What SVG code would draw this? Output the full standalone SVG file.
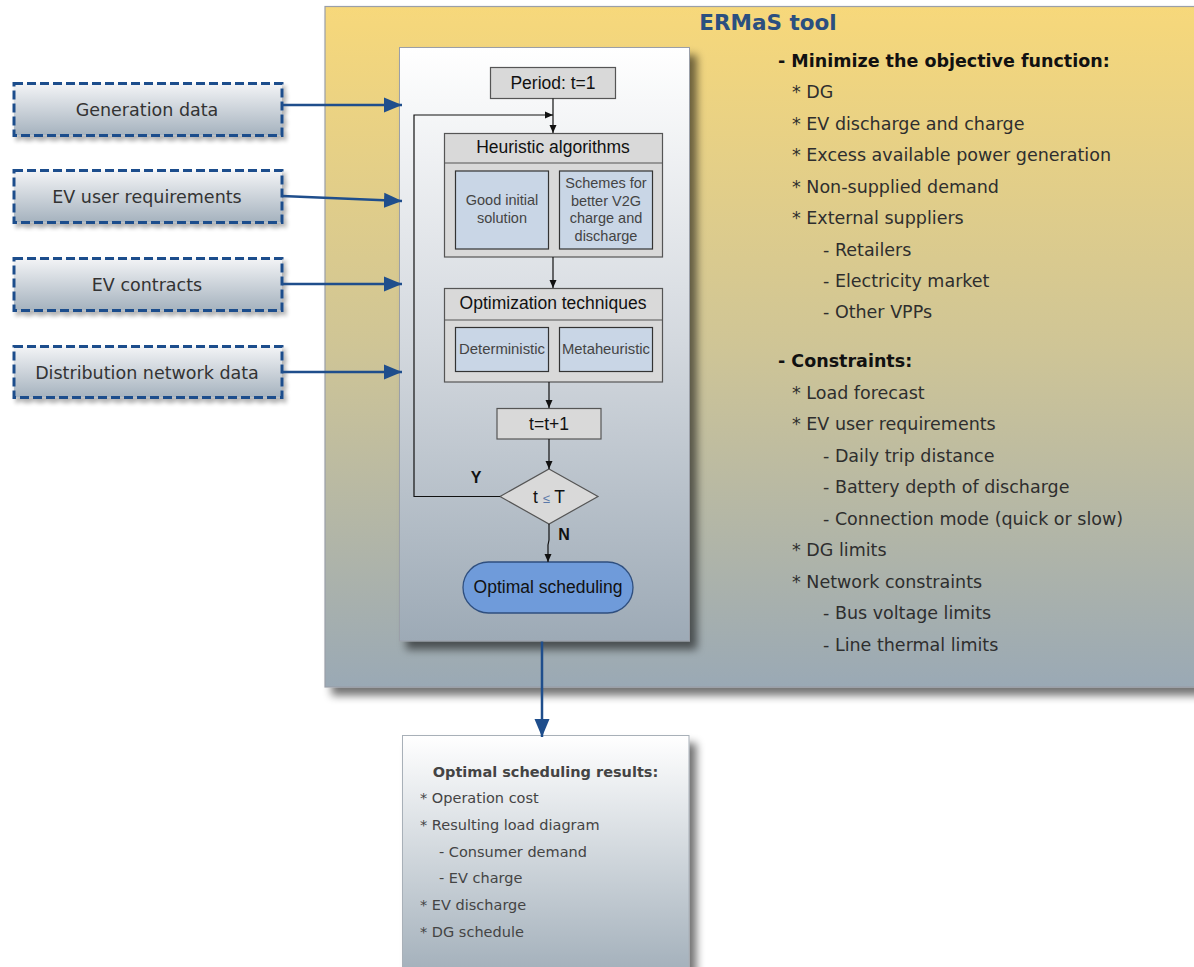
<svg xmlns="http://www.w3.org/2000/svg" width="1194" height="967" viewBox="0 0 1194 967">
  <defs>
    <linearGradient id="gTool" x1="0" y1="0" x2="0" y2="1">
      <stop offset="0" stop-color="#F7D87A"/>
      <stop offset="0.5" stop-color="#CFC596"/>
      <stop offset="1" stop-color="#9AA9B5"/>
    </linearGradient>
    <linearGradient id="gPanel" x1="0" y1="0" x2="0" y2="1">
      <stop offset="0" stop-color="#FFFFFF"/>
      <stop offset="0.5" stop-color="#D3D8DE"/>
      <stop offset="1" stop-color="#9DAAB6"/>
    </linearGradient>
    <linearGradient id="gInput" x1="0" y1="0" x2="0" y2="1">
      <stop offset="0" stop-color="#F3F4F6"/>
      <stop offset="1" stop-color="#A5B2BE"/>
    </linearGradient>
    <linearGradient id="gResult" x1="0" y1="0" x2="0" y2="1">
      <stop offset="0" stop-color="#FFFFFF"/>
      <stop offset="1" stop-color="#A2AFBA"/>
    </linearGradient>
    <filter id="shadow" x="-10%" y="-10%" width="130%" height="130%">
      <feGaussianBlur in="SourceAlpha" stdDeviation="4"/>
      <feOffset dx="7" dy="8" result="b"/>
      <feComponentTransfer><feFuncA type="linear" slope="0.55"/></feComponentTransfer>
      <feMerge><feMergeNode/><feMergeNode in="SourceGraphic"/></feMerge>
    </filter>
    <filter id="shadowSm" x="-10%" y="-20%" width="130%" height="160%">
      <feGaussianBlur in="SourceAlpha" stdDeviation="2"/>
      <feOffset dx="3" dy="4"/>
      <feComponentTransfer><feFuncA type="linear" slope="0.3"/></feComponentTransfer>
      <feMerge><feMergeNode/><feMergeNode in="SourceGraphic"/></feMerge>
    </filter>
    <marker id="bigArrow" markerUnits="userSpaceOnUse" markerWidth="19" markerHeight="16" refX="18" refY="8" orient="auto">
      <path d="M0,0.5 L18,8 L0,15.5 z" fill="#1F4E8C"/>
    </marker>
    <marker id="tip" markerUnits="userSpaceOnUse" markerWidth="9" markerHeight="8" refX="8" refY="4" orient="auto">
      <path d="M0,0.5 L8,4 L0,7.5 z" fill="#111"/>
    </marker>
  </defs>
  <style>
    .input rect { fill: url(#gInput); stroke: #1F4E8C; stroke-width: 3; stroke-dasharray: 9 4; }
    .input text { font-family: "DejaVu Sans", Verdana, sans-serif; font-size: 17.5px; fill: #333; text-anchor: middle; }
    .feed { stroke: #1F4E8C; stroke-width: 2.5; fill: none; marker-end: url(#bigArrow); }
    .flow { stroke: #111; stroke-width: 1.2; fill: none; }
    .flow.arr { marker-end: url(#tip); }
    .box { fill: #D9D9D9; stroke: #555; stroke-width: 1.2; }
    .sub { fill: #C9D6E6; stroke: #333; stroke-width: 1.2; }
    .fc { font-family: "Liberation Sans", Arial, sans-serif; fill: #111; text-anchor: middle; }
    .fcl { font-size: 17.5px; }
    .fcs { font-size: 14.5px; fill: #444; }
    .list { font-family: "DejaVu Sans", Verdana, sans-serif; font-size: 17.5px; fill: #2E2E2E; }
    .head { font-weight: bold; fill: #111; }
    .res { font-family: "DejaVu Sans", Verdana, sans-serif; font-size: 14.5px; fill: #444; }
  </style>

  <!-- ERMaS tool container -->
  <g id="ermas-tool">
    <rect x="325" y="6.5" width="880" height="680.5" fill="url(#gTool)" stroke="#9A9FA8" stroke-width="1.2" filter="url(#shadow)"/>
    <text x="768" y="30" font-family="DejaVu Sans, Verdana, sans-serif" font-size="21.5" font-weight="bold" fill="#2B4F80" text-anchor="middle">ERMaS tool</text>
  </g>

  <!-- Flowchart panel -->
  <g id="panel">
    <rect x="399.5" y="47.5" width="290" height="593.5" fill="url(#gPanel)" stroke="#9A9FA8" stroke-width="1" filter="url(#shadow)"/>
  </g>

  <!-- Objective and constraints -->
  <g id="objective" class="list">
    <text x="778" y="66.5" class="head">- Minimize the objective function:</text>
    <text x="792" y="98">* DG</text>
    <text x="792" y="129.5">* EV discharge and charge</text>
    <text x="792" y="161">* Excess available power generation</text>
    <text x="792" y="192.5">* Non-supplied demand</text>
    <text x="792" y="224">* External suppliers</text>
    <text x="823" y="255.5">- Retailers</text>
    <text x="823" y="287">- Electricity market</text>
    <text x="823" y="318">- Other VPPs</text>
  </g>
  <g id="constraints" class="list">
    <text x="778" y="367" class="head">- Constraints:</text>
    <text x="792" y="398.5">* Load forecast</text>
    <text x="792" y="430">* EV user requirements</text>
    <text x="823" y="461.5">- Daily trip distance</text>
    <text x="823" y="493">- Battery depth of discharge</text>
    <text x="823" y="524.5">- Connection mode (quick or slow)</text>
    <text x="792" y="556">* DG limits</text>
    <text x="792" y="587.5">* Network constraints</text>
    <text x="823" y="619">- Bus voltage limits</text>
    <text x="823" y="650.5">- Line thermal limits</text>
  </g>

  <!-- Input data -->
  <g id="generation-data" class="input">
    <rect x="14" y="83.5" width="268" height="52" filter="url(#shadowSm)"/>
    <text x="147" y="116">Generation data</text>
  </g>
  <g id="ev-user-requirements" class="input">
    <rect x="14" y="170.5" width="268" height="52" filter="url(#shadowSm)"/>
    <text x="147" y="203">EV user requirements</text>
  </g>
  <g id="ev-contracts" class="input">
    <rect x="14" y="258.5" width="268" height="52" filter="url(#shadowSm)"/>
    <text x="147" y="291">EV contracts</text>
  </g>
  <g id="distribution-network-data" class="input">
    <rect x="14" y="346.5" width="268" height="51" filter="url(#shadowSm)"/>
    <text x="147" y="378.5">Distribution network data</text>
  </g>

  <!-- Flowchart nodes -->
  <g id="period">
    <rect class="box" x="490.5" y="67.5" width="125" height="31"/>
    <text class="fc fcl" x="553" y="89">Period: t=1</text>
  </g>
  <g id="heuristic">
    <rect class="box" x="444.5" y="133.5" width="218" height="123.5"/>
    <line x1="444.5" y1="163" x2="662.5" y2="163" stroke="#555" stroke-width="1.2"/>
    <text class="fc fcl" x="553" y="153">Heuristic algorithms</text>
  </g>
  <g id="good-initial-solution">
    <rect class="sub" x="455.5" y="171" width="93" height="78"/>
    <text class="fc fcs" x="502" y="205">Good initial</text>
    <text class="fc fcs" x="502" y="222.5">solution</text>
  </g>
  <g id="v2g-schemes">
    <rect class="sub" x="559.5" y="171" width="93" height="78"/>
    <text class="fc fcs" x="606" y="188">Schemes for</text>
    <text class="fc fcs" x="606" y="205.5">better V2G</text>
    <text class="fc fcs" x="606" y="223">charge and</text>
    <text class="fc fcs" x="606" y="240.5">discharge</text>
  </g>
  <g id="optimization">
    <rect class="box" x="444.5" y="288.5" width="218" height="93.5"/>
    <line x1="444.5" y1="320" x2="662.5" y2="320" stroke="#555" stroke-width="1.2"/>
    <text class="fc fcl" x="553" y="309">Optimization techniques</text>
  </g>
  <g id="deterministic">
    <rect class="sub" x="455.5" y="327.5" width="93" height="44"/>
    <text class="fc fcs" x="502" y="354" textLength="86" lengthAdjust="spacingAndGlyphs">Deterministic</text>
  </g>
  <g id="metaheuristic">
    <rect class="sub" x="559.5" y="327.5" width="93" height="44"/>
    <text class="fc fcs" x="606" y="354" textLength="88" lengthAdjust="spacingAndGlyphs">Metaheuristic</text>
  </g>
  <g id="increment">
    <rect class="box" x="497" y="408.5" width="104" height="30.5"/>
    <text class="fc fcl" x="549" y="429.5">t=t+1</text>
  </g>
  <g id="decision">
    <polygon class="box" points="549,469 598,496.5 549,524 500,496.5"/>
    <text class="fc fcl" x="549" y="502.5">t <tspan fill="#5A78A8" font-size="13">≤</tspan> T</text>
  </g>
  <g id="optimal-scheduling">
    <rect x="463" y="562" width="170" height="51" rx="25.5" fill="#6F9BDA" stroke="#2F4F7F" stroke-width="1.3"/>
    <text class="fc fcl" x="548" y="593">Optimal scheduling</text>
  </g>

  <!-- Results -->
  <g id="results">
    <rect x="402.5" y="735.5" width="286.5" height="240" fill="url(#gResult)" stroke="#A8B0B8" stroke-width="1" filter="url(#shadow)"/>
    <text class="res head" x="545.5" y="777" text-anchor="middle">Optimal scheduling results:</text>
    <text class="res" x="420" y="803">* Operation cost</text>
    <text class="res" x="420" y="830">* Resulting load diagram</text>
    <text class="res" x="439" y="856.5">- Consumer demand</text>
    <text class="res" x="439" y="883">- EV charge</text>
    <text class="res" x="420" y="910">* EV discharge</text>
    <text class="res" x="420" y="936.5">* DG schedule</text>
  </g>

  <!-- Connectors -->
  <g id="connectors">
    <line class="feed" x1="282" y1="105" x2="402" y2="105"/>
    <line class="feed" x1="282" y1="196" x2="402" y2="201"/>
    <line class="feed" x1="282" y1="284" x2="402" y2="284"/>
    <line class="feed" x1="282" y1="372" x2="402" y2="372"/>
    <line class="feed" x1="542" y1="641.5" x2="542" y2="737"/>

    <line class="flow arr" x1="553" y1="98.5" x2="553" y2="133"/>
    <polyline class="flow arr" points="500,496.5 414,496.5 414,115 553,115"/>
    <line class="flow arr" x1="553" y1="257" x2="553" y2="288"/>
    <line class="flow arr" x1="549" y1="382" x2="549" y2="408"/>
    <line class="flow arr" x1="549" y1="439" x2="549" y2="469"/>
    <polyline class="flow arr" points="549,524 549,540 548,545 548,562"/>
    <text class="fc" x="476" y="483" font-size="16" font-weight="bold">Y</text>
    <text class="fc" x="564" y="540" font-size="16" font-weight="bold">N</text>
  </g>
</svg>
